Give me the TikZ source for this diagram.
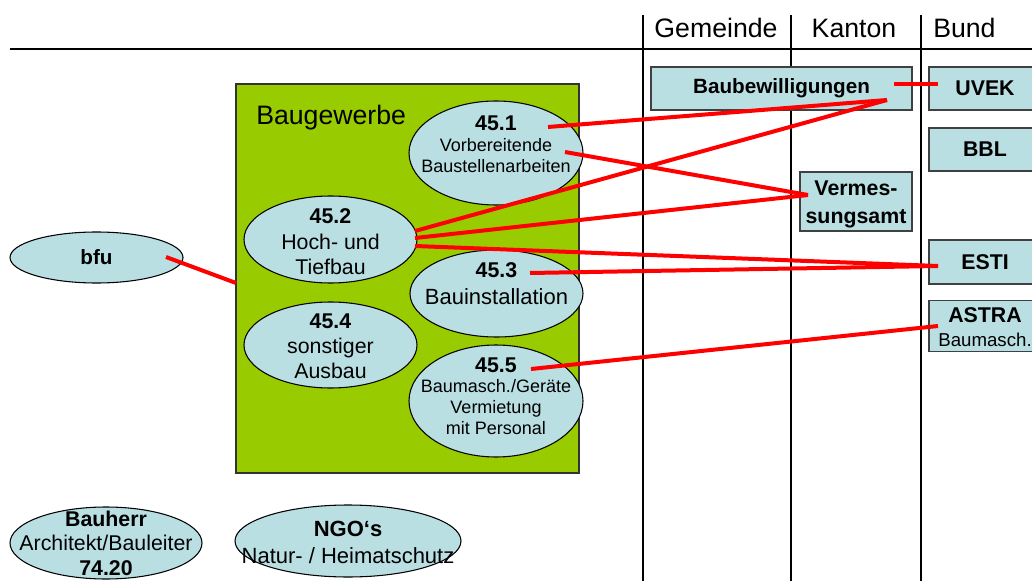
\documentclass[tikz,border=0pt]{standalone}
\usepackage{fontspec}
\setmainfont{Liberation Sans}
\usetikzlibrary{shapes.geometric}
\definecolor{lblue}{RGB}{186,223,227}
\definecolor{bgreen}{RGB}{153,204,0}
\definecolor{lred}{RGB}{255,0,0}
\tikzset{
  ell/.style={ellipse, draw=black, line width=0.8pt, fill=lblue, inner sep=0pt},
  txt/.style={align=center, inner sep=0pt},
  box/.style={rectangle, draw=black!75, line width=0.8pt, fill=lblue, inner sep=0pt, align=center, font=\fontsize{16}{21}\selectfont\bfseries},
  link/.style={lred, line width=3pt},
  grid/.style={black, line width=1pt},
  head/.style={anchor=base, inner sep=0pt, font=\fontsize{20}{24}\selectfont}
}
\begin{document}
\begin{tikzpicture}[x=0.75pt,y=-0.75pt]
\clip (0,0) rectangle (1032,581);
\fill[white] (0,0) rectangle (1032,581);
% table grid
\draw[grid, line width=1.6pt] (10,49) -- (1032,49);
\draw[grid] (643,15) -- (643,581);
\draw[grid] (791,15) -- (791,581);
\draw[grid, line width=2pt] (921,15) -- (921,581);
\node[head] (hg) at (716,38) {Gemeinde};
\node[head] (hk) at (854,38) {Kanton};
\node[head, anchor=base west] (hb) at (933,38) {Bund};
% green box
\node[rectangle, draw=black!80, line width=0.8pt, fill=bgreen, minimum width=257.25pt, minimum height=291.75pt, inner sep=0pt] (bg) at (407.5,278.5) {};
\node[anchor=base west, inner sep=0pt, font=\fontsize{20}{24}\selectfont] (bgt) at (256,125) {Baugewerbe};
% ellipses
\node[ell, minimum width=130.5pt, minimum height=78pt,
  label={[txt, name=t451, yshift=6.75pt, font=\fontsize{13.5}{15.75}\selectfont]center:{{\fontsize{16}{16}\selectfont\bfseries 45.1}\\Vorbereitende\\Baustellenarbeiten}}] (e451) at (496,153) {};
\node[ell, minimum width=129.75pt, minimum height=65.25pt,
  label={[txt, name=t452, yshift=-1.75pt, font=\fontsize{16}{19}\selectfont]center:{{\bfseries 45.2}\\Hoch- und\\Tiefbau}}] (e452) at (330.5,239.5) {};
\node[ell, minimum width=129.75pt, minimum height=65.25pt,
  label={[txt, name=t453, yshift=7.5pt, font=\fontsize{16.5}{20}\selectfont]center:{{\fontsize{16}{16}\selectfont\bfseries 45.3}\\Bauinstallation}}] (e453) at (496.5,293.5) {};
\node[ell, minimum width=129.75pt, minimum height=64.5pt,
  label={[txt, name=t454, yshift=-1pt, font=\fontsize{16}{19}\selectfont]center:{{\bfseries 45.4}\\sonstiger\\Ausbau}}] (e454) at (330.5,345) {};
\node[ell, minimum width=130.5pt, minimum height=84pt,
  label={[txt, name=t455, yshift=3.75pt, font=\fontsize{13.5}{15.5}\selectfont]center:{{\fontsize{16}{16}\selectfont\bfseries 45.5}\\Baumasch./Geräte\\Vermietung\\mit Personal}}] (e455) at (496,401) {};
\node[ell, minimum width=129.75pt, minimum height=38.25pt,
  label={[txt, name=tbfu, font=\fontsize{15.5}{18}\selectfont\bfseries]center:bfu}] (bfu) at (96.5,257.5) {};
\node[ell, minimum width=144pt, minimum height=54pt,
  label={[txt, name=tbh, font=\fontsize{16}{18.4}\selectfont]center:{{\bfseries Bauherr}\\Architekt/Bauleiter\\{\bfseries 74.20}}}] (bh) at (106,543) {};
\node[ell, minimum width=169.5pt, minimum height=54pt,
  label={[txt, name=tngo, yshift=-1pt, font=\fontsize{16.5}{20}\selectfont]center:{{\bfseries NGO‘s}\\Natur- / Heimatschutz}}] (ngo) at (348,541) {};
% boxes
\node[box, minimum width=195.75pt, minimum height=32.25pt, font=\fontsize{15.5}{18}\selectfont\bfseries] (bb) at (781.5,88.5) {Baubewilligungen};
\node[box, minimum width=84pt, minimum height=32.25pt] (uvek) at (985,88.5) {UVEK};
\node[box, minimum width=84pt, minimum height=32.25pt] (bbl) at (985,149.5) {BBL};
\node[box, minimum width=84pt, minimum height=33pt] (esti) at (985,262) {ESTI};
\node[box, minimum width=84pt, minimum height=38.25pt,
  label={[txt, name=tastra, yshift=-1pt, font=\fontsize{16}{18}\selectfont\bfseries]center:{ASTRA\\{\fontsize{14}{14}\selectfont\mdseries Baumasch.}}}] (astra) at (985,326) {};
\node[box, minimum width=84pt, minimum height=44.25pt,
  label={[txt, name=tverm, yshift=-2.5pt, font=\fontsize{16}{21}\selectfont\bfseries]center:{Vermes-\\sungsamt}}] (verm) at (856,201.5) {};
% connector end points
\coordinate (bfuA) at (166,257);
\coordinate (bgA) at (236,283);
\coordinate (bbR) at (894,84);
\coordinate (uvekL) at (938,84);
\coordinate (bbP) at (887,100);
\coordinate (vermP) at (808,195);
\coordinate (estiP) at (938,266);
\coordinate (astraP) at (938,326);
\coordinate (a451) at (548,127);
\coordinate (b451) at (565,152);
\coordinate (a452) at (415,231);
\coordinate (b452) at (415,238);
\coordinate (c452) at (415,246);
\coordinate (a453) at (530,273);
\coordinate (a455) at (531,369);
% connectors
\draw[link] (bfuA) -- (bgA);
\draw[link] (bbR) -- (uvekL);
\draw[link] (a451) -- (bbP);
\draw[link] (a452) -- (bbP);
\draw[link] (b451) -- (vermP);
\draw[link] (b452) -- (vermP);
\draw[link] (c452) -- (estiP);
\draw[link] (a453) -- (estiP);
\draw[link] (a455) -- (astraP);
\end{tikzpicture}
\end{document}
